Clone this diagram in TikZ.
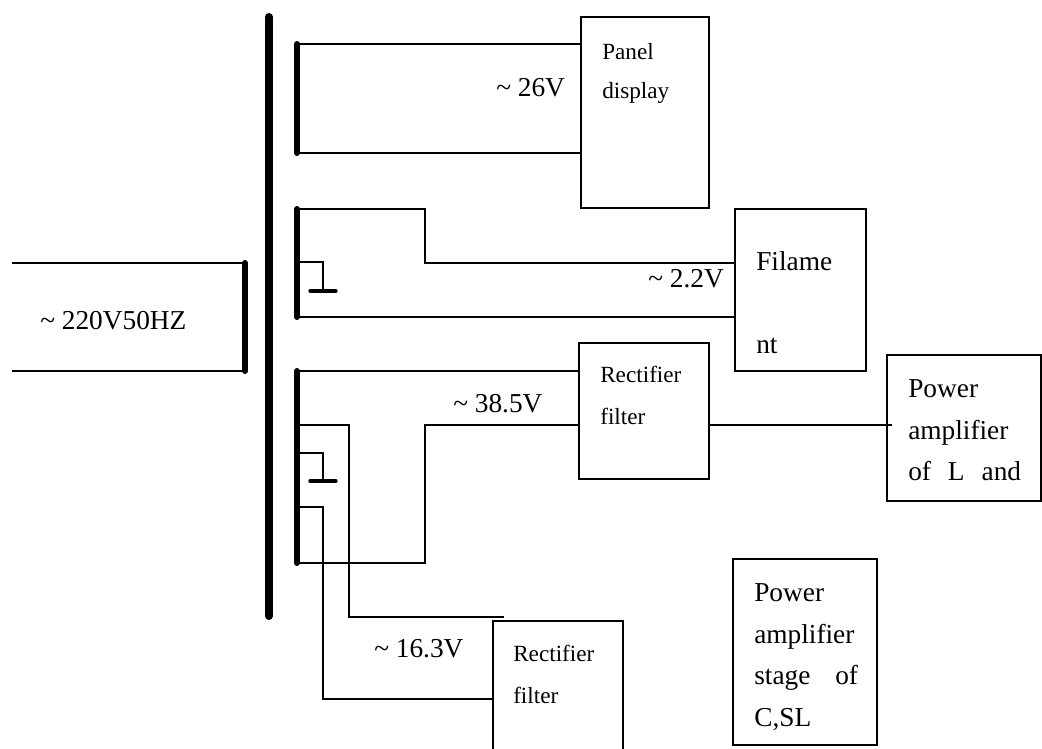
\documentclass[tikz,border=0pt]{standalone}
\usepackage{fontspec}
\setmainfont{Liberation Serif}
\usetikzlibrary{calc}
\tikzstyle{unitbox} = [rectangle, draw, line width=1.1pt, anchor=north west, inner sep=0pt, outer sep=0pt]
\tikzstyle{boxtext} = [anchor=north west, align=left, inner sep=0pt]
\tikzstyle{smalltext} = [boxtext, font=\fontsize{17.4}{31.5}\selectfont]
\tikzstyle{bigtext} = [boxtext, font=\fontsize{20.5}{31.4}\selectfont]
\tikzstyle{volts} = [anchor=base west, inner sep=0pt, font=\fontsize{20.5}{24}\selectfont]
\tikzstyle{wire} = [draw, line width=1.1pt]
\tikzstyle{bar} = [draw, line width=4.5pt, line cap=round]
\tikzstyle{mainbar} = [draw, line width=6pt, line cap=round]
\tikzstyle{earth} = [draw, line width=2.5pt, line cap=round]

\begin{document}
\begin{tikzpicture}[x=0.75pt, y=-0.75pt]
    \useasboundingbox (0,0) rectangle (1042,749);

    \node [unitbox, minimum width=96pt, minimum height=143.25pt] (panel) at (581,17) {};
    \node [unitbox, minimum width=98.25pt, minimum height=121.5pt] (filament) at (735,209) {};
    \node [unitbox, minimum width=97.5pt, minimum height=102pt] (rectifierA) at (579,343) {};
    \node [unitbox, minimum width=115.5pt, minimum height=109.5pt] (poweramp) at (887,355) {};
    \node [unitbox, minimum width=108pt, minimum height=139.5pt] (powerstage) at (733,559) {};
    \node [unitbox, minimum width=97.5pt, minimum height=100.5pt] (rectifierB) at (493,621) {};

    \node [smalltext, font=\fontsize{17.4}{29.25}\selectfont] (paneltext) at (602,43) {Panel\\display};
    \node [bigtext, font=\fontsize{20.5}{62.3}\selectfont] (filamenttext) at (756,251) {Filame\\nt};
    \node [smalltext] (rectifierAtext) at (600,366) {Rectifier\\filter};
    \node [bigtext] (powertext) at (908,379) {Power\\amplifier\\of\hspace{0.62em}L\hspace{0.62em}and};
    \node [bigtext] (stagetext) at (754,583) {Power\\amplifier\\stage\hspace{0.91em}of\\C,SL};
    \node [smalltext] (rectifierBtext) at (513,645) {Rectifier\\filter};

    \node [volts] (v26) at (496,97) {\textasciitilde\ 26V};
    \node [volts] (v22) at (648,287) {\textasciitilde\ 2.2V};
    \node [volts] (v385) at (453,412) {\textasciitilde\ 38.5V};
    \node [volts] (v163) at (374,657) {\textasciitilde\ 16.3V};
    \node [volts] (v220) at (40,329) {\textasciitilde\ 220V50HZ};

    \coordinate (maintop) at (269,17);
    \coordinate (mainend) at (269,616);
    \coordinate (inputtop) at (245,263);
    \coordinate (inputend) at (245,371);
    \coordinate (inA) at (12,263);
    \coordinate (inB) at (12,371);
    \coordinate (paneltop) at (297,44);
    \coordinate (panelend) at (297,153);
    \coordinate (filatop) at (297,209);
    \coordinate (filaend) at (297,317);
    \coordinate (filamid) at (297,262);
    \coordinate (filabend) at (425,263);
    \coordinate (earthA) at (323,291);
    \coordinate (rectop) at (297,371);
    \coordinate (recend) at (297,563);
    \coordinate (recA) at (297,425);
    \coordinate (recB) at (297,453);
    \coordinate (recC) at (297,507);
    \coordinate (earthB) at (323,481);
    \coordinate (recbend) at (425,425);
    \coordinate (stubbend) at (349,617);
    \coordinate (stub) at (504,617);
    \coordinate (lowbend) at (323,699);

    % Draw bars
    \path [mainbar] (maintop) -- (mainend);
    \path [bar] (inputtop) -- (inputend);
    \path [bar] (paneltop) -- (panelend);
    \path [bar] (filatop) -- (filaend);
    \path [bar] (rectop) -- (recend);
    \path [earth] ($(earthA)+(-13,0)$) -- ($(earthA)+(13,0)$);
    \path [earth] ($(earthB)+(-13,0)$) -- ($(earthB)+(13,0)$);

    % Draw edges
    \path [wire] (inA) -- (inputtop);
    \path [wire] (inB) -- (inputend);
    \path [wire] (paneltop) -- (paneltop -| panel.west);
    \path [wire] (panelend) -- (panelend -| panel.west);
    \path [wire] (filatop) -| (filabend) -- (filabend -| filament.west);
    \path [wire] (filaend) -- (filaend -| filament.west);
    \path [wire] (filamid) -| (earthA);
    \path [wire] (rectop) -- (rectop -| rectifierA.west);
    \path [wire] (recend) -| (recbend) -- (recbend -| rectifierA.west);
    \path [wire] (recA) -| (stubbend) -- (stub);
    \path [wire] (recB) -| (earthB);
    \path [wire] (recC) -| (lowbend) -- (lowbend -| rectifierB.west);
    \path [wire] (rectifierA.east |- recbend) -- ($(recbend -| poweramp.west)+(5,0)$);
\end{tikzpicture}
\end{document}
